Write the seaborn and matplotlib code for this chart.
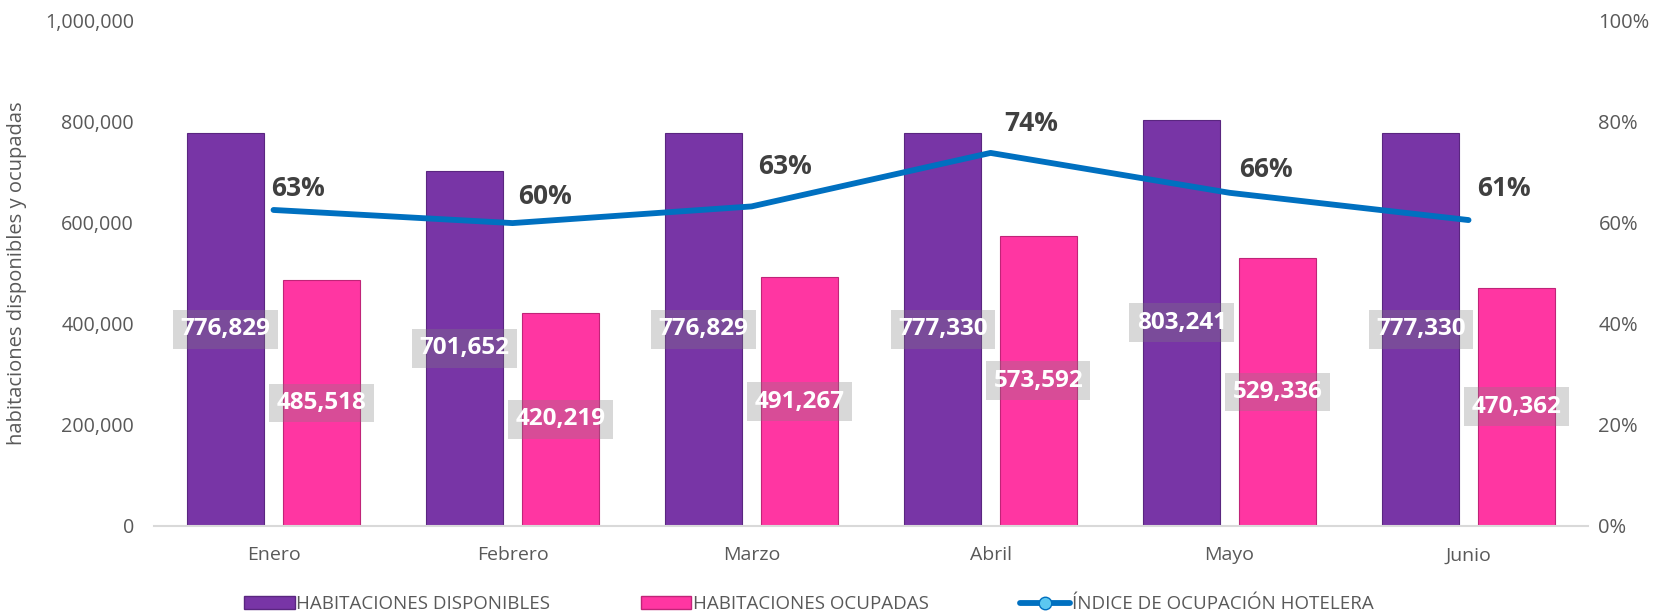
import numpy as np
import pandas as pd
import matplotlib
matplotlib.use("Agg")
import matplotlib.pyplot as plt
from matplotlib.patches import Patch
from matplotlib.lines import Line2D
from matplotlib.ticker import FuncFormatter
import seaborn as sns

# ---- data ----
meses = ["Enero", "Febrero", "Marzo", "Abril", "Mayo", "Junio"]
disponibles = [776829, 701652, 776829, 777330, 803241, 777330]
ocupadas = [485518, 420219, 491267, 573592, 529336, 470362]
indice = [0.625, 0.599, 0.632, 0.738, 0.659, 0.605]
indice_labels = ["63%", "60%", "63%", "74%", "66%", "61%"]
serie_disp = "HABITACIONES DISPONIBLES"
serie_ocup = "HABITACIONES OCUPADAS"
serie_ind = "ÍNDICE DE OCUPACIÓN HOTELERA"
ylabel = "habitaciones disponibles y ocupadas"

# label offsets (points) for the percentage labels (style only)
pct_offsets = [(-2, 15.5), (4, 19.5), (5, 28.5), (10, 21), (7, 17), (6, 23)]

sns.set_theme(style="white")
plt.rcParams["font.family"] = ["Open Sans", "DejaVu Sans"]

C_PURPLE = "#7835A6"
C_PINK = "#FF36A2"
C_LINE = "#0070C0"
C_TEXT = "#595959"

df = pd.DataFrame({
    "mes": meses * 2,
    "valor": disponibles + ocupadas,
    "serie": [serie_disp] * len(meses) + [serie_ocup] * len(meses),
})

fig = plt.figure(figsize=(16.58, 6.14), dpi=100)
ax = fig.add_axes([0.0929, 0.1441, 0.8649, 0.8223])

sns.barplot(data=df, x="mes", y="valor", hue="serie", order=meses,
            hue_order=[serie_disp, serie_ocup],
            palette=[C_PURPLE, C_PINK], width=0.8, gap=0.2,
            edgecolor="#5a2680", linewidth=0.8, saturation=1,
            legend=False, ax=ax)
for p in ax.containers[1]:
    p.set_edgecolor("#c02478")

ax.set_ylim(0, 1_000_000)
ax.set_xlim(-0.5, len(meses) - 0.5)
ax.set_yticks(np.arange(0, 1_000_001, 200_000))
ax.yaxis.set_major_formatter(FuncFormatter(lambda v, p: f"{int(v):,}"))
ax.set_xlabel("")
ax.set_ylabel(ylabel, fontsize=14.5, color=C_TEXT, labelpad=13)
ax.tick_params(axis="y", labelsize=14.2, labelcolor=C_TEXT, length=0, pad=14.5)
ax.tick_params(axis="x", labelsize=14, labelcolor=C_TEXT, length=0, pad=15)
for s in ["top", "right", "left"]:
    ax.spines[s].set_visible(False)
ax.spines["bottom"].set_color("#d9d9d9")
ax.spines["bottom"].set_linewidth(1.5)

box = dict(boxstyle="square,pad=0.3", fc=(0.5, 0.5, 0.5, 0.3), ec="none")
for cont, vals in zip(ax.containers, [disponibles, ocupadas]):
    ax.bar_label(cont, labels=[f"{v:,}" for v in vals], label_type="center",
                 color="white", fontweight="bold", fontsize=17.5, bbox=box)

ax2 = ax.twinx()
sns.lineplot(x=np.arange(len(meses)), y=indice, color=C_LINE, linewidth=4.2,
             ax=ax2, legend=False, solid_capstyle="round")
ax2.set_ylim(0, 1)
ax2.set_yticks(np.linspace(0, 1, 6))
ax2.yaxis.set_major_formatter(FuncFormatter(lambda v, p: f"{v:.0%}"))
ax2.tick_params(axis="y", labelsize=14.5, labelcolor=C_TEXT, length=0, pad=7.5)
for s in ["top", "right", "left", "bottom"]:
    ax2.spines[s].set_visible(False)
ax2.set_ylabel("")
for i, (v, t) in enumerate(zip(indice, indice_labels)):
    ax2.annotate(t, (i, v), xytext=pct_offsets[i], textcoords="offset points",
                 ha="left", va="center", fontsize=19, fontweight="bold",
                 color="#404040")

handles = [
    Patch(facecolor=C_PURPLE, edgecolor="#5a2680", label=serie_disp),
    Patch(facecolor=C_PINK, edgecolor="#c02478", label=serie_ocup),
    Line2D([0], [0], color=C_LINE, linewidth=4.2, marker="o", markersize=9,
           markerfacecolor="#5cc8f0", markeredgecolor=C_LINE, label=serie_ind),
]
fig.legend(handles=handles, loc="lower center", bbox_to_anchor=(0.488, -0.026),
           ncol=3, frameon=False, fontsize=13.5, labelcolor=C_TEXT,
           handlelength=2.67, handleheight=0.7, handletextpad=0.1,
           columnspacing=4.85)

fig.savefig("out.png", dpi=100)
